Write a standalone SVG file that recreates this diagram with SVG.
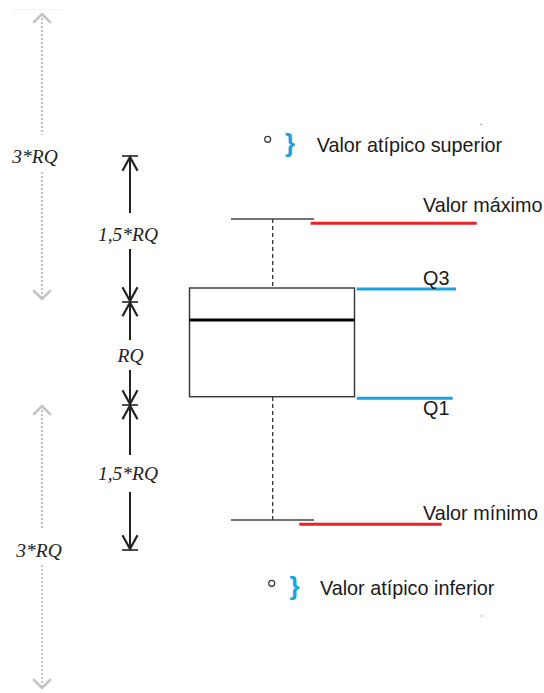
<svg xmlns="http://www.w3.org/2000/svg" width="544" height="693" viewBox="0 0 544 693">
<style>
.it{font-family:"Liberation Serif","Times New Roman",serif;font-style:italic;font-size:19.5px;fill:#222}
.lb{font-family:"Liberation Sans",Arial,sans-serif;font-size:19.8px;fill:#1a1a1a}
.dim{stroke:#222;stroke-width:2;fill:none}
.tick{stroke:#222;stroke-width:1.6}
.gr{stroke:#c4c4c4;stroke-width:2.2;stroke-dasharray:2 2;fill:none}
.red{stroke:#e8202a;stroke-width:3}
.blue{stroke:#1aa3e0;stroke-width:3}
.cap{stroke:#444;stroke-width:1.4}
.brace{font-family:"Liberation Sans",Arial,sans-serif;font-size:26px;font-weight:bold;fill:#1aa3e0}
</style>
<defs>
<marker id="ah" markerUnits="userSpaceOnUse" markerWidth="20" markerHeight="20" refX="0" refY="0" viewBox="-14 -8 16 16" orient="auto-start-reverse" overflow="visible">
<path d="M-11,-6 L0,0 L-11,6" fill="none" stroke="#222" stroke-width="1.8"/>
</marker>
<marker id="gh" markerUnits="userSpaceOnUse" markerWidth="20" markerHeight="20" refX="0" refY="0" viewBox="-14 -8 16 16" orient="auto-start-reverse" overflow="visible">
<path d="M-7,-7 L0,0 L-7,7" fill="none" stroke="#c4c4c4" stroke-width="2"/>
</marker>
</defs>
<line x1="12" y1="9.5" x2="63" y2="9.5" stroke="#f2f2f2" stroke-width="1"/>
<g id="connectors">
<line class="gr" x1="42" y1="14" x2="42" y2="135" marker-start="url(#gh)"/>
<line class="gr" x1="42" y1="172" x2="42" y2="299" marker-end="url(#gh)"/>
<line class="gr" x1="42" y1="406" x2="42" y2="528" marker-start="url(#gh)"/>
<line class="gr" x1="42" y1="565" x2="42" y2="688" marker-end="url(#gh)"/>
<line class="dim" x1="130" y1="157" x2="130" y2="213" marker-start="url(#ah)"/>
<line class="dim" x1="130" y1="249" x2="130" y2="301" marker-end="url(#ah)"/>
<line class="dim" x1="130" y1="302.5" x2="130" y2="340" marker-start="url(#ah)"/>
<line class="dim" x1="130" y1="370" x2="130" y2="404" marker-end="url(#ah)"/>
<line class="dim" x1="130" y1="405.5" x2="130" y2="455" marker-start="url(#ah)"/>
<line class="dim" x1="130" y1="492" x2="130" y2="549" marker-end="url(#ah)"/>
<line class="tick" x1="122" y1="156" x2="138" y2="156"/>
<line class="tick" x1="122" y1="302" x2="138" y2="302"/>
<line class="tick" x1="122" y1="405" x2="138" y2="405"/>
<line class="tick" x1="122" y1="550" x2="138" y2="550"/>
</g>
<g id="dim-labels">
<text class="it" x="35" y="163" text-anchor="middle">3*RQ</text>
<text class="it" x="39" y="557" text-anchor="middle">3*RQ</text>
<text class="it" x="128" y="241" text-anchor="middle">1,5*RQ</text>
<text class="it" x="130.5" y="362" text-anchor="middle">RQ</text>
<text class="it" x="128" y="480" text-anchor="middle">1,5*RQ</text>
</g>
<g id="boxplot">
<line x1="272.7" y1="219" x2="272.7" y2="288" stroke="#333" stroke-width="1.3" stroke-dasharray="4 3"/>
<line x1="272.7" y1="397" x2="272.7" y2="520" stroke="#333" stroke-width="1.3" stroke-dasharray="4 3"/>
<line class="cap" x1="231" y1="219" x2="314" y2="219"/>
<line class="cap" x1="231" y1="520" x2="314" y2="520"/>
<rect x="189.5" y="288" width="165" height="108.7" fill="#fff" stroke="#333" stroke-width="1.4"/>
<line x1="189.5" y1="320" x2="354.5" y2="320" stroke="#000" stroke-width="3"/>
</g>
<g id="upper-outlier">
<circle cx="267.7" cy="139.3" r="3" fill="none" stroke="#333" stroke-width="1.2"/>
<text class="brace" x="285" y="152">}</text>
<text class="lb" x="316.7" y="151.7">Valor atípico superior</text>
<rect x="480.5" y="123.8" width="1" height="1" fill="#444"/>
</g>
<g id="max">
<line class="red" x1="310.7" y1="223.3" x2="476.7" y2="223.3"/>
<text class="lb" x="423" y="211.7">Valor máximo</text>
</g>
<g id="q3">
<line class="blue" x1="356.7" y1="289" x2="456" y2="289"/>
<text class="lb" x="423" y="285">Q3</text>
</g>
<g id="q1">
<line class="blue" x1="356.7" y1="398.3" x2="452.7" y2="398.3"/>
<text class="lb" x="423" y="415">Q1</text>
</g>
<g id="min">
<line class="red" x1="299.3" y1="524.3" x2="441.7" y2="524.3"/>
<text class="lb" x="423" y="520">Valor mínimo</text>
</g>
<g id="lower-outlier">
<circle cx="271.7" cy="583.3" r="3" fill="none" stroke="#333" stroke-width="1.2"/>
<text class="brace" x="289.5" y="595">}</text>
<text class="lb" x="320" y="595">Valor atípico inferior</text>
<rect x="481.2" y="615.5" width="1" height="1" fill="#444"/>
</g>
</svg>
